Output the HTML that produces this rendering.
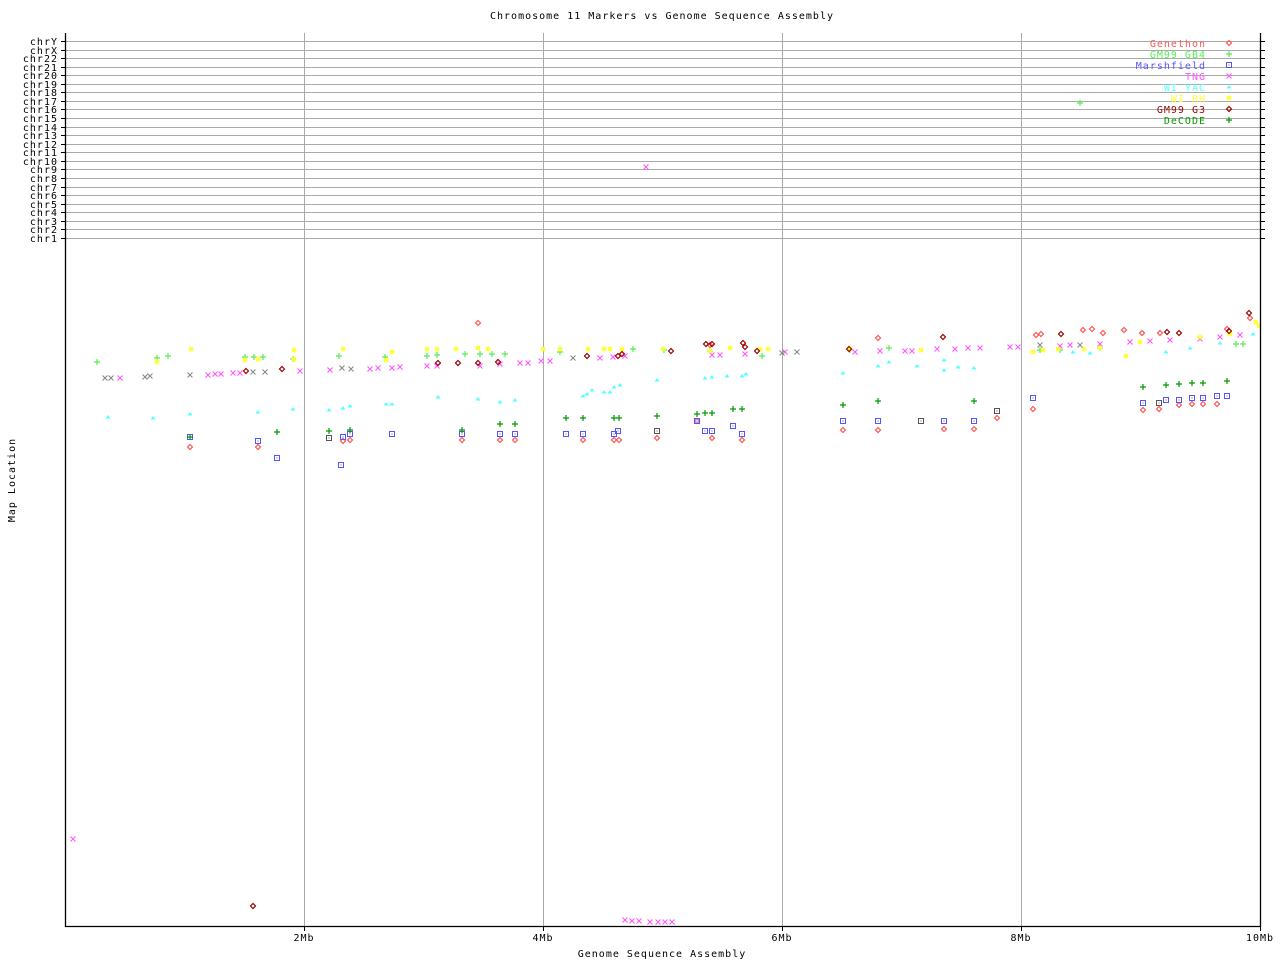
<!DOCTYPE html>
<html><head><meta charset="utf-8"><style>
body{margin:0;background:#fff}
svg{display:block}
text{font-family:"DejaVu Sans Mono","Liberation Mono",monospace;font-size:10px;letter-spacing:1px}
</style></head><body>
<svg id="s" width="1280" height="960" xmlns="http://www.w3.org/2000/svg">
<rect width="1280" height="960" fill="#fff"/>
<text x="662" y="19" text-anchor="middle">Chromosome 11 Markers vs Genome Sequence Assembly</text>
<text x="662" y="957" text-anchor="middle">Genome Sequence Assembly</text>
<text transform="translate(15,480) rotate(-90)" text-anchor="middle">Map Location</text>
<g id="grid" stroke="#aaa" stroke-width="1"></g>
<g id="lab"></g>
<g id="pts"></g>
<g id="leg"></g>
<path d="M65.5 33V926.5H1260.5V33" fill="none" stroke="#000" stroke-width="1.3"/>
</svg>
<script>
var NS="http://www.w3.org/2000/svg";
function el(p,t,a,txt){var e=document.createElementNS(NS,t);for(var k in a)e.setAttribute(k,a[k]);if(txt!=null)e.textContent=txt;document.getElementById(p).appendChild(e);return e;}
var chrs=["chrY","chrX","chr22","chr21","chr20","chr19","chr18","chr17","chr16","chr15","chr14","chr13","chr12","chr11","chr10","chr9","chr8","chr7","chr6","chr5","chr4","chr3","chr2","chr1"];
chrs.forEach(function(c,i){var y=Math.round(41+i*8.56)+0.5;
 el("grid","line",{x1:66,x2:1260,y1:y,y2:y});
 el("grid","line",{x1:61,x2:66,y1:y,y2:y,stroke:"#000"});
 el("grid","line",{x1:1260,x2:1265,y1:y,y2:y,stroke:"#000"});
 el("lab","text",{x:58,y:y+3.5,"text-anchor":"end"},c);});
[[304,"2Mb"],[543,"4Mb"],[782,"6Mb"],[1021,"8Mb"],[1260,"10Mb"]].forEach(function(t){
 el("grid","line",{x1:t[0]+.5,x2:t[0]+.5,y1:33,y2:926});
 el("grid","line",{x1:t[0]+.5,x2:t[0]+.5,y1:926,y2:931,stroke:"#000"});
 el("lab","text",{x:t[0],y:941,"text-anchor":"middle"},t[1]);});
function sym(t,x,y,c){
 if(t=="d")el("pts","path",{d:"M"+x+" "+(y-2.5)+"L"+(x+2.5)+" "+y+"L"+x+" "+(y+2.5)+"L"+(x-2.5)+" "+y+"Z",fill:"none",stroke:c,"stroke-width":1.2});
 else if(t=="+")el("pts","path",{d:"M"+(x-3)+" "+y+"H"+(x+3)+"M"+x+" "+(y-3)+"V"+(y+3),stroke:c,"stroke-width":1.2});
 else if(t=="s"){el("pts","rect",{x:x-2.5,y:y-2.5,width:5,height:5,fill:"none",stroke:c,"stroke-width":1});el("pts","rect",{x:x-.5,y:y-.5,width:1,height:1,fill:c});}
 else if(t=="x")el("pts","path",{d:"M"+(x-2.5)+" "+(y-2.5)+"L"+(x+2.5)+" "+(y+2.5)+"M"+(x+2.5)+" "+(y-2.5)+"L"+(x-2.5)+" "+(y+2.5),stroke:c,"stroke-width":1.1});
 else if(t=="t")el("pts","path",{d:"M"+(x-2.5)+" "+(y+1.5)+"L"+x+" "+(y-2)+"L"+(x+2.5)+" "+(y+1.5)+"Z",fill:c});
 else if(t=="*")el("pts","path",{d:"M"+(x-2.5)+" "+y+"H"+(x+2.5)+"M"+x+" "+(y-2.5)+"V"+(y+2.5)+"M"+(x-2)+" "+(y-2)+"L"+(x+2)+" "+(y+2)+"M"+(x+2)+" "+(y-2)+"L"+(x-2)+" "+(y+2),stroke:c,"stroke-width":1.2});
}
var S=[
["d","#f55",[[190,447],[258,447],[343,441],[350,440],[462,440],[500,440],[515,440],[583,440],[614,440],[619,440],[657,438],[697,421],[712,438],[742,440],[843,430],[878,430],[944,429],[974,429],[997,418],[1033,409],[1143,410],[1159,409],[1179,405],[1192,404],[1203,404],[1217,404],[710,345],[1036,335],[1041,334],[1083,330],[1092,329],[1103,333],[1124,330],[1142,333],[1160,333],[1227,329],[478,323],[878,338],[1250,318]]],
["+","#5e5",[[97,362],[157,358],[168,356],[245,357],[254,357],[263,357],[293,359],[339,356],[385,357],[427,356],[437,355],[465,354],[480,354],[492,354],[505,354],[560,352],[633,349],[664,350],[710,351],[762,356],[850,350],[889,348],[1040,350],[1060,350],[1100,348],[1236,344],[1243,344],[1080,103]]],
["s","#55f",[[190,437],[258,441],[277,458],[329,438],[343,437],[350,434],[392,434],[462,434],[500,434],[515,434],[566,434],[583,434],[614,434],[618,431],[657,431],[697,421],[705,431],[712,431],[733,426],[742,434],[843,421],[878,421],[921,421],[944,421],[974,421],[997,411],[1033,398],[1143,403],[1166,400],[1179,400],[1192,398],[1203,398],[1217,396],[1227,396],[341,465]]],
["x","#f5f",[[73,839],[120,378],[208,375],[215,374],[221,374],[233,373],[240,373],[300,371],[330,370],[370,369],[378,368],[392,368],[400,367],[427,366],[437,366],[480,366],[500,364],[520,363],[528,363],[541,361],[550,361],[600,358],[613,357],[625,356],[646,167],[712,355],[720,355],[745,354],[785,352],[855,352],[880,351],[905,351],[912,351],[937,349],[955,349],[968,348],[980,348],[1010,347],[1018,347],[1060,346],[1070,345],[1100,344],[1130,342],[1150,341],[1170,340],[1200,339],[1220,337],[1240,335],[625,920],[632,921],[639,921],[650,922],[658,922],[665,922],[672,922]]],
["t","#5ff",[[108,417],[153,418],[190,414],[258,412],[293,409],[329,410],[343,408],[350,406],[386,404],[392,404],[438,397],[478,399],[500,402],[515,400],[583,396],[587,394],[592,390],[604,392],[610,392],[614,387],[620,385],[657,380],[705,378],[712,377],[727,376],[742,376],[746,374],[843,373],[878,366],[889,362],[917,366],[944,360],[944,370],[958,367],[974,368],[1073,352],[1090,353],[1166,352],[1190,348],[1220,343],[1253,334]]],
["*","#ff3",[[157,362],[191,349],[245,360],[258,359],[294,350],[294,359],[343,349],[386,360],[392,352],[427,349],[437,349],[456,349],[478,348],[488,349],[543,349],[560,349],[588,349],[604,349],[610,349],[622,349],[663,349],[710,351],[730,348],[760,349],[768,349],[850,349],[921,350],[1033,352],[1043,350],[1058,349],[1084,349],[1100,348],[1126,356],[1140,342],[1200,337],[1230,334],[1256,322],[1259,326]]],
["d","#900",[[246,371],[282,369],[438,363],[458,363],[478,363],[498,362],[587,356],[618,356],[622,354],[671,351],[706,344],[712,344],[743,343],[745,347],[757,351],[849,349],[943,337],[1061,334],[1167,332],[1179,333],[253,906],[1229,331],[1249,313]]],
["+","#090",[[190,437],[277,432],[329,431],[350,430],[462,430],[500,424],[515,424],[566,418],[583,418],[614,418],[619,418],[657,416],[697,414],[705,413],[712,413],[733,409],[742,409],[843,405],[878,401],[974,401],[1143,387],[1166,385],[1179,384],[1192,383],[1203,383],[1227,381]]],
["x","#888",[[105,378],[111,378],[145,377],[150,376],[190,375],[253,372],[265,372],[342,368],[351,369],[573,358],[782,353],[797,352],[1040,345],[1080,345]]],
["s","#555",[[329,438],[657,431],[921,421],[997,411],[1159,403]]]
];
S.forEach(function(s){s[2].forEach(function(p){sym(s[0],p[0],p[1],s[1]);});});
var L=[["Genethon","#f55","d"],["GM99 GB4","#5e5","+"],["Marshfield","#55f","s"],["TNG","#f5f","x"],["WI YAC","#5ff","t"],["WI RH","#ff3","*"],["GM99 G3","#900","d"],["DeCODE","#090","+"]];
L.forEach(function(l,i){var y=43+i*11;
 el("leg","text",{x:1206,y:y+4,"text-anchor":"end",fill:l[1]},l[0]);
 sym(l[2],1229,y,l[1]);});
</script>
</body></html>
